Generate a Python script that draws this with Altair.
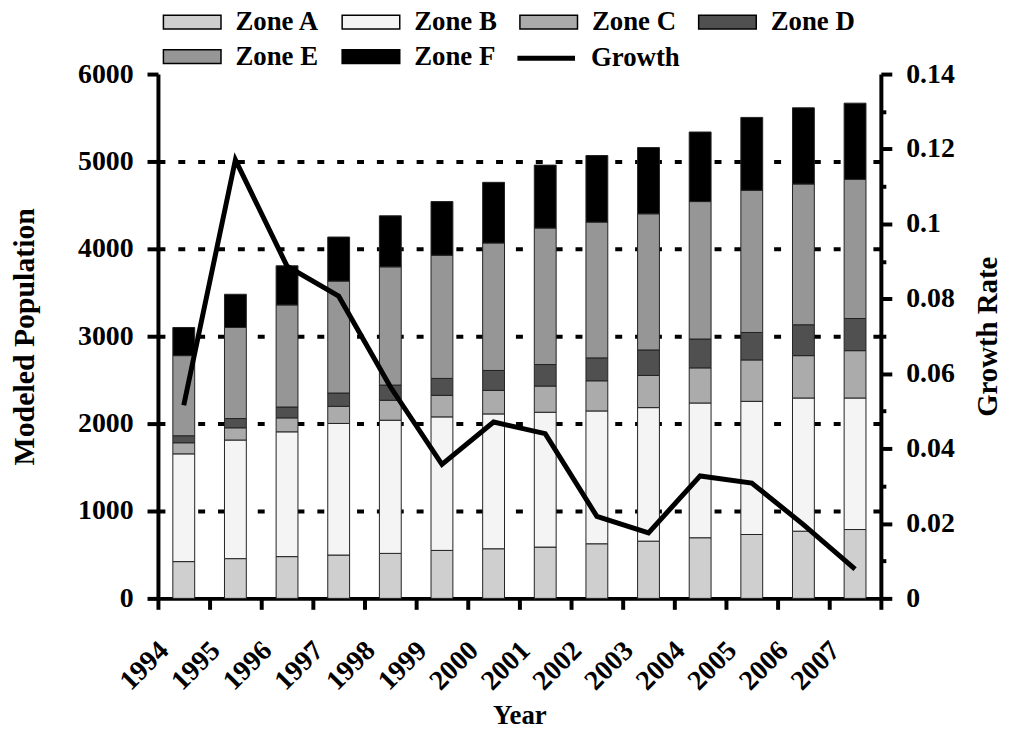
import altair as alt
import pandas as pd

years = [str(y) for y in range(1994, 2008)]
zones = ["Zone A", "Zone B", "Zone C", "Zone D", "Zone E", "Zone F"]
zone_colors = ["#cfcfcf", "#f4f4f4", "#ababab", "#505050", "#969696", "#000000"]

zone_a = [421, 455, 478, 496, 515, 549, 568, 587, 625, 655, 694, 731, 769, 788]
zone_b = [1233, 1357, 1428, 1506, 1524, 1528, 1543, 1543, 1520, 1528, 1542, 1524, 1524, 1505]
zone_c = [127, 140, 160, 196, 228, 246, 269, 300, 345, 368, 402, 474, 485, 542]
zone_d = [80, 106, 124, 152, 174, 194, 228, 246, 262, 292, 330, 314, 353, 368]
zone_e = [917, 1042, 1168, 1281, 1353, 1410, 1459, 1562, 1554, 1558, 1573, 1627, 1611, 1592]
zone_f = [322, 380, 448, 504, 584, 614, 694, 720, 762, 758, 796, 834, 872, 872]
growth = [0.0516, 0.1171, 0.0887, 0.0807, 0.0565, 0.0358, 0.0471, 0.0440,
          0.0219, 0.0175, 0.0327, 0.0308, 0.0197, 0.0078]

pop_ticks = [0, 1000, 2000, 3000, 4000, 5000, 6000]
rate_ticks = [0, 0.01, 0.02, 0.03, 0.04, 0.05, 0.06, 0.07, 0.08, 0.09, 0.10, 0.11, 0.12, 0.13, 0.14]

series = [zone_a, zone_b, zone_c, zone_d, zone_e, zone_f]
rows = []
for i, yr in enumerate(years):
    for k, (z, vals) in enumerate(zip(zones, series)):
        rows.append({"Year": yr, "Zone": z, "Pop": vals[i], "k": k})
bars_df = pd.DataFrame(rows)
line_df = pd.DataFrame({"Year": years, "Growth": growth, "Series": ["Growth"] * len(years)})

FONT = "Liberation Serif"
LBL = 28
LEG = 27

x_enc = alt.X(
    "Year:N", sort=years,
    scale=alt.Scale(paddingInner=0, paddingOuter=0),
    axis=alt.Axis(
        title="Year", tickBand="extent", labelAngle=315, labelAlign="right",
        labelBaseline="middle", labelOffset=-20, labelPadding=37, tickSize=11,
        labelFontSize=28, titleFontSize=27, titleY=105, titleBaseline="top",
    ),
)

bars = alt.Chart(bars_df).mark_bar(width=22, stroke="#222222", strokeWidth=1).encode(
    x=x_enc,
    y=alt.Y(
        "Pop:Q", stack="zero",
        scale=alt.Scale(domain=[0, 6000], nice=False),
        axis=alt.Axis(
            title="Modeled Population", values=pop_ticks, format="d",
            grid=True, gridDash=[7, 13], gridWidth=4, gridColor="black",
            gridOpacity={"condition": {"test": "datum.value >= 6000 || datum.value <= 0", "value": 0}, "value": 1},
            tickSize=11, labelPadding=14, titlePadding=38, titleFontSize=30,
        ),
    ),
    fill=alt.Fill(
        "Zone:N", scale=alt.Scale(domain=zones, range=zone_colors),
        legend=alt.Legend(
            title=None, orient="none", legendX=19, legendY=-68, direction="horizontal",
            columns=4, symbolType="M-2,-0.48H2V0.48H-2Z", symbolSize=841,
            symbolStrokeColor="black", symbolStrokeWidth=1.5, symbolOpacity=1,
            labelFont=FONT, labelFontSize=LEG, labelFontWeight="bold", labelColor="black",
            labelOffset=28, columnPadding=19, rowPadding=6, labelLimit=300,
        ),
    ),
    order=alt.Order("k:Q", sort="ascending"),
)

line = alt.Chart(line_df).mark_line(strokeWidth=5, color="black").encode(
    x=alt.X("Year:N", sort=years),
    y=alt.Y(
        "Growth:Q",
        scale=alt.Scale(domain=[0, 0.14], nice=False),
        axis=alt.Axis(
            orient="right", title="Growth Rate", values=rate_ticks, grid=False,
            labelExpr="round(datum.value*100) % 2 == 0 ? format(datum.value, '~g') : ''",
            tickSize={"condition": {"test": "round(datum.value*100) % 2 == 0", "value": 11}, "value": 5},
            labelPadding=14, titlePadding=19, titleAngle=270, titleBaseline="top",
            titleFontSize=29,
        ),
    ),
    stroke=alt.Stroke(
        "Series:N", scale=alt.Scale(domain=["Growth"], range=["black"]),
        legend=alt.Legend(
            title=None, orient="none", legendX=374, legendY=-33,
            symbolType="M-2,0H2", symbolSize=841, symbolStrokeWidth=5,
            symbolStrokeColor="black",
            labelFont=FONT, labelFontSize=LEG, labelFontWeight="bold", labelColor="black",
            labelOffset=28, labelLimit=300,
        ),
    ),
)

chart = alt.layer(bars, line).resolve_scale(
    y="independent"
).properties(
    width=728, height=528,
    autosize=alt.AutoSizeParams(type="none"),
    padding={"left": 151, "top": 64, "right": 125, "bottom": 129},
).configure_view(
    strokeWidth=0
).configure_axis(
    domainColor="black", domainWidth=4, tickColor="black", tickWidth=4,
    labelFont=FONT, labelFontSize=LBL, labelFontWeight="bold", labelColor="black",
    titleFont=FONT, titleFontWeight="bold", titleColor="black",
)

chart.save("out.html", embed_options={"renderer": "svg", "actions": False})
